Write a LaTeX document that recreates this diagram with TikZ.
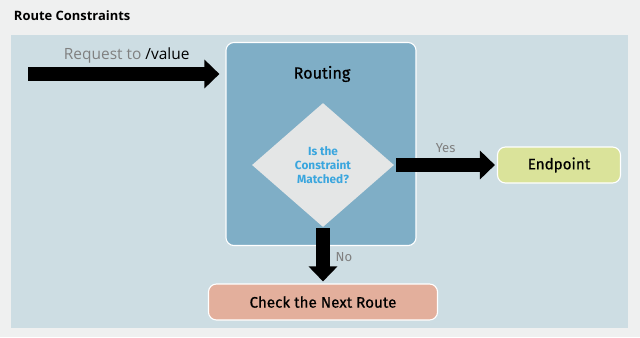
\documentclass[tikz,border=0pt]{standalone}
\usepackage{fontspec}
\setmainfont{Fira Sans}
\newfontfamily\headfont{Open Sans}
\newfontfamily\boxfont[FakeBold=0.6]{Fira Sans}
\usetikzlibrary{positioning, shapes.geometric, arrows.meta}
\definecolor{pagegray}{HTML}{EFF0F0}
\definecolor{panelblue}{HTML}{CDDDE3}
\definecolor{routeblue}{HTML}{7FAEC6}
\definecolor{diamondgray}{HTML}{E4E6E6}
\definecolor{questionblue}{HTML}{3AA6DE}
\definecolor{endgreen}{HTML}{DAE39A}
\definecolor{nextred}{HTML}{E3AF9C}
\tikzset{
	boxnode/.style={
			shape=rectangle,
			rounded corners=2mm,
			draw=white,
			line width=0.8pt,
			inner sep=0pt,
			text=black,
			font=\boxfont\fontsize{10.8}{13}\selectfont
		},
	decisionnode/.style={
			shape=diamond,
			fill=diamondgray,
			draw=none,
			minimum width=3.55cm,
			minimum height=3.1cm,
			inner sep=0pt,
			align=center,
			text=questionblue,
			font=\bfseries\fontsize{8.4}{10}\selectfont
		}
}
\tikzset{
	bigarrow/.style={
			line width=0.35cm,
			-{Triangle[width=0.7cm, length=0.375cm]}
		},
	graytext/.style={outer sep=0pt, font=\fontsize{9.3}{11}\selectfont\color{gray}}
}

\begin{document}
\begin{tikzpicture}[x=0.025cm, y=-0.025cm]
	\useasboundingbox (0,0) rectangle (640,337);
	\fill[pagegray] (0,0) rectangle (640,337);
	\fill[panelblue] (11,35) rectangle (628,328);

	\node[anchor=west, font=\headfont\bfseries\fontsize{9.2}{11}\selectfont] (title) at (9,16) {Route Constraints};

	\node[boxnode, fill=routeblue, minimum width=4.75cm, minimum height=5.075cm] (routing) at (321,144) {};
	\node[font=\boxfont\fontsize{11.5}{14}\selectfont] (routinglabel) at (322,74) {Routing};
	\node[decisionnode] (matched) at (323,165) {Is the\\Constraint\\Matched?};
	\node[boxnode, fill=endgreen, minimum width=3.075cm, minimum height=0.9cm] (endpoint) at (559,165) {Endpoint};
	\node[boxnode, fill=nextred, minimum width=5.725cm, minimum height=0.9cm] (nextroute) at (323,302) {Check the Next Route};

	\coordinate (reqstart) at (28,74);

	\draw[bigarrow, shorten >=0.15cm] (reqstart) -- (routing.west |- reqstart)
		node[midway, above=0.15cm, outer sep=0pt, font=\headfont\fontsize{11}{13}\selectfont] {\textcolor{gray}{Request to} /value};
	\draw[bigarrow, shorten <=0.05cm, shorten >=0.05cm] (matched.east) -- (endpoint.west)
		node[midway, above=0.2cm, graytext] {Yes};
	\draw[bigarrow, shorten <=0.025cm, shorten >=0.05cm] (matched.south) -- (nextroute.north)
		node[midway, right=0.2cm, yshift=-0.05cm, graytext] {No};
\end{tikzpicture}
\end{document}
